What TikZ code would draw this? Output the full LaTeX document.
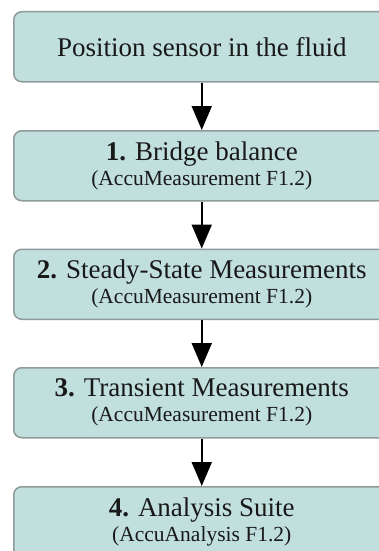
\documentclass[tikz,border=0pt]{standalone}
\usepackage{fontspec}
\setmainfont{Liberation Serif}
\usetikzlibrary{arrows.meta}
\definecolor{boxfill}{HTML}{C0DFDD}
\definecolor{boxline}{HTML}{8F9A9A}
\tikzset{
  stepbox/.style={draw=boxline, line width=1.5pt, fill=boxfill, rounded corners=8pt,
    minimum width=376pt, minimum height=70pt, inner sep=0pt, align=center,
    anchor=north west, text=black!90},
  flow/.style={line width=2pt, -{Triangle[width=20pt,length=24pt]}},
  big/.style={font=\fontsize{27}{26}\selectfont},
}
\newcommand{\subline}[1]{\\[-1pt]{\fontsize{21.5}{26}\selectfont #1}}
\begin{document}
\begin{tikzpicture}[x=1pt,y=-1pt]
\useasboundingbox (0,0) rectangle (379,551);
\clip (0,0) rectangle (379,551);
\fill[white] (0,0) rectangle (379,551);
\node[stepbox, big] (b0) at (13,11) {Position sensor in the fluid};
\node[stepbox, big] (b1) at (13,130) {\textbf{1.} Bridge balance\subline{(AccuMeasurement F1.2)}};
\node[stepbox, big] (b2) at (13,248.5) {\textbf{2.} Steady-State Measurements\subline{(AccuMeasurement F1.2)}};
\node[stepbox, big] (b3) at (13,367) {\textbf{3.} Transient Measurements\subline{(AccuMeasurement F1.2)}};
\node[stepbox, big] (b4) at (13,486) {\textbf{4.} Analysis Suite\subline{(AccuAnalysis F1.2)}};
\draw[flow] (b0.south) -- (b1.north);
\draw[flow] (b1.south) -- (b2.north);
\draw[flow] (b2.south) -- (b3.north);
\draw[flow] (b3.south) -- (b4.north);
\end{tikzpicture}
\end{document}
